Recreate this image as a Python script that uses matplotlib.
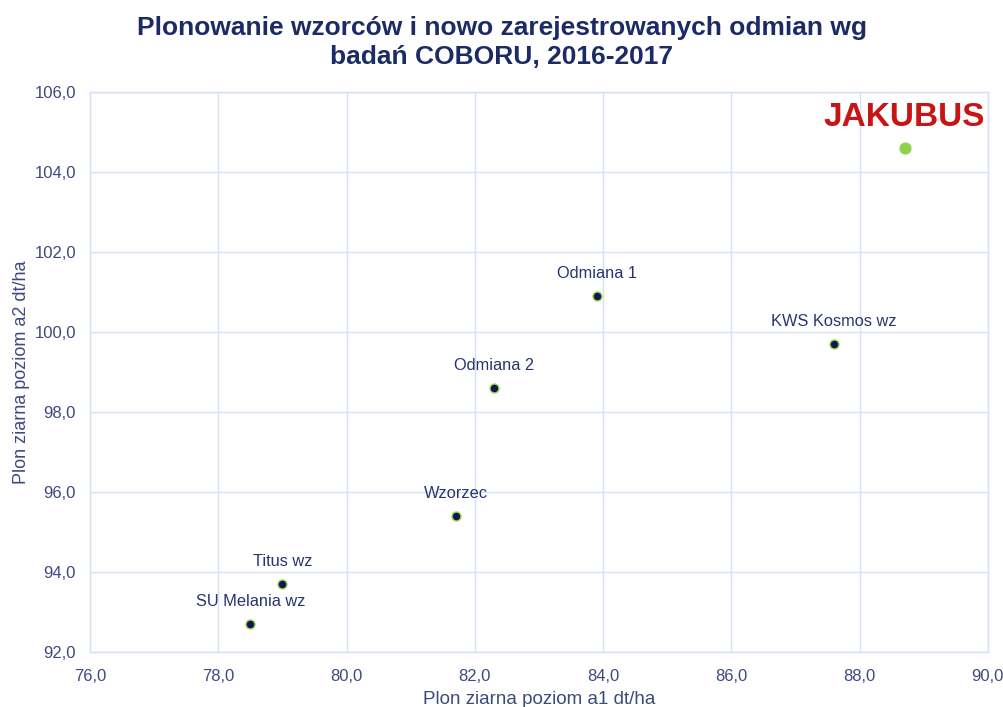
import matplotlib
matplotlib.use("Agg")
import matplotlib.pyplot as plt
from matplotlib.ticker import FuncFormatter

names = ["Odmiana 1", "KWS Kosmos wz", "Odmiana 2", "Wzorzec", "Titus wz", "SU Melania wz"]
a1 = [83.9, 87.6, 82.3, 81.7, 79.0, 78.5]
a2 = [100.9, 99.7, 98.6, 95.4, 93.7, 92.7]
star_name = "JAKUBUS"
star_a1 = 88.7
star_a2 = 104.6

plt.rcParams['font.family'] = ['Liberation Sans', 'DejaVu Sans']
grid_c = '#d6e0fb'

fig = plt.figure(figsize=(10.04, 7.07), dpi=100)
ax = fig.add_axes([0.0896, 0.0778, 0.8944, 0.7921])
ax.set_xlim(76, 90)
ax.set_ylim(92, 106)
ax.set_xticks([76, 78, 80, 82, 84, 86, 88, 90])
ax.set_yticks([92, 94, 96, 98, 100, 102, 104, 106])
fmt = FuncFormatter(lambda v, p: f"{v:.1f}".replace('.', ','))
ax.xaxis.set_major_formatter(fmt)
ax.yaxis.set_major_formatter(fmt)
ax.grid(True, color=grid_c, linewidth=1.0)
ax.set_axisbelow(True)
for s in ax.spines.values():
    s.set_color(grid_c)
    s.set_linewidth(1.0)
ax.tick_params(length=0, labelsize=12, labelcolor='#3c4a7e')
ax.tick_params(axis='x', pad=12)
ax.tick_params(axis='y', pad=10)

ax.scatter(a1, a2, s=42, color='#0d1a57', edgecolors='#a7d64a', linewidths=1.0, zorder=3)
for n, x, y in zip(names, a1, a2):
    ax.annotate(n, (x, y), xytext=(0, 11), textcoords='offset points', ha='center',
                va='bottom', fontsize=11.8, color='#27356e')

ax.scatter([star_a1], [star_a2], s=60, color='#8fd14f', zorder=3)
ax.annotate(star_name, (star_a1, star_a2), xytext=(0, 11), textcoords='offset points',
            ha='center', va='bottom', fontsize=24, fontweight='bold', color='#c81414')

ax.set_xlabel("Plon ziarna poziom a1 dt/ha", fontsize=13.5, color='#3c4a7e', labelpad=5)
ax.set_ylabel("Plon ziarna poziom a2 dt/ha", fontsize=13, color='#3c4a7e', labelpad=3)

fig.suptitle("Plonowanie wzorców i nowo zarejestrowanych odmian wg\nbadań COBORU, 2016-2017",
             x=0.5, y=0.978, fontsize=19, fontweight='bold', color='#1c2b66', linespacing=1.3)

fig.savefig("out.png", dpi=100)
